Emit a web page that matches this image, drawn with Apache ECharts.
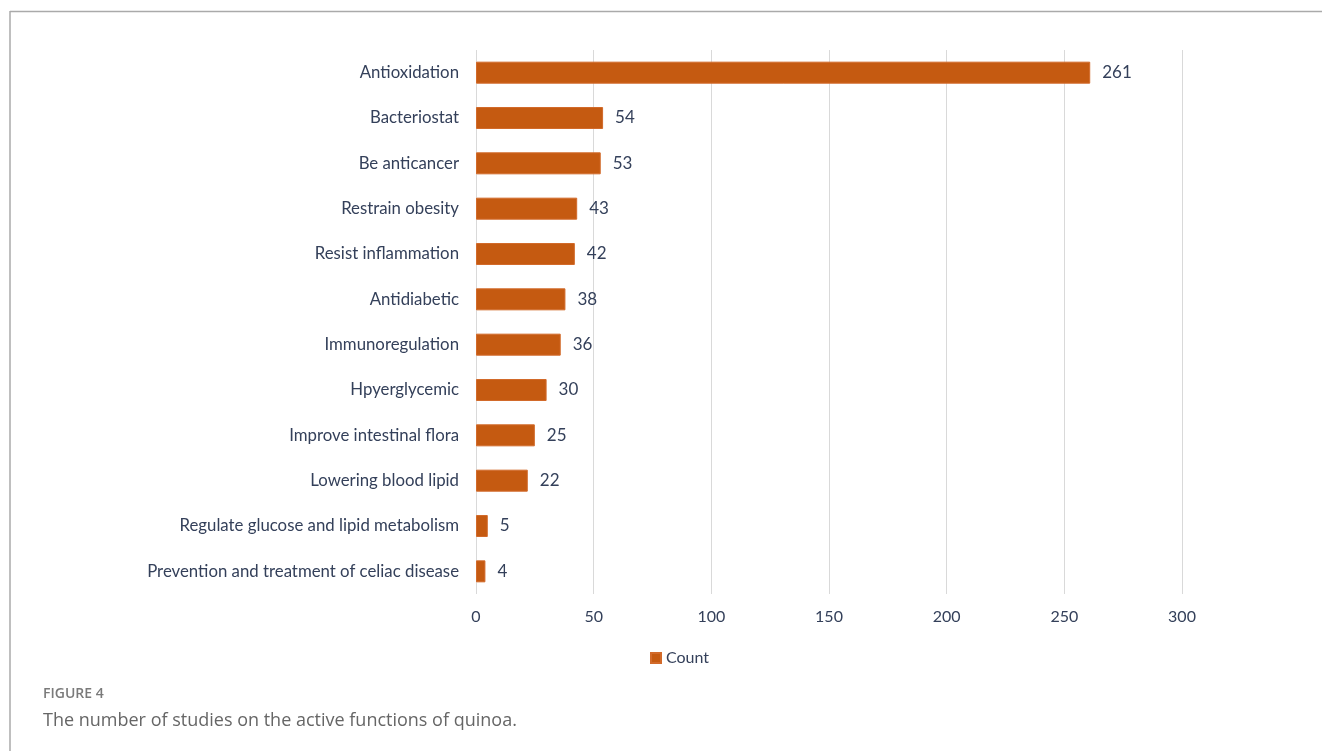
<!DOCTYPE html>
<html><head><meta charset="utf-8">
<script src="https://cdn.jsdelivr.net/npm/echarts@6/dist/echarts.min.js"></script>
<style>html,body{margin:0;padding:0;background:#fff}#c{width:1322px;height:751px}</style>
</head><body><div id="c"></div>
<script>
const categories = ["Antioxidation","Bacteriostat","Be anticancer","Restrain obesity","Resist inflammation","Antidiabetic","Immunoregulation","Hpyerglycemic","Improve intestinal flora","Lowering blood lipid","Regulate glucose and lipid metabolism","Prevention and treatment of celiac disease"];
const counts = [261,54,53,43,42,38,36,30,25,22,5,4];
const seriesName = "Count";
const figLabel = "FIGURE 4";
const figCaption = "The number of studies on the active functions of quinoa.";

const chart = echarts.init(document.getElementById('c'));
const font = "Lato, 'Open Sans', sans-serif";
const txt = '#34405a';
chart.setOption({
  animation:false,
  grid:{left:476,right:140,top:50,bottom:157},
  legend:{data:[seriesName],bottom:80,left:645,itemWidth:10,itemHeight:10,itemGap:4,
    textStyle:{fontFamily:font,fontSize:16,color:txt},icon:'rect'},
  xAxis:{type:'value',min:0,max:300,interval:50,
    axisLine:{show:false},axisTick:{show:false},
    splitLine:{lineStyle:{color:'#d9d9d9',width:1}},
    axisLabel:{fontFamily:font,fontSize:16,color:txt,margin:15}},
  yAxis:{type:'category',data:categories,inverse:true,
    axisLine:{show:false},axisTick:{show:false},
    axisLabel:{fontFamily:font,fontSize:16.8,color:txt,margin:17}},
  series:[{name:seriesName,type:'bar',data:counts,barWidth:22,
    itemStyle:{color:'#c55a11',borderColor:'#d26a2a',borderWidth:1},
    label:{show:true,position:'right',distance:12,fontFamily:font,fontSize:17,color:txt}}],
  graphic:[
    {type:'line',shape:{x1:10,y1:11.5,x2:1322,y2:11.5},style:{stroke:'#aaaaaa',lineWidth:1.5}},
    {type:'line',shape:{x1:10,y1:11,x2:10,y2:751},style:{stroke:'#aaaaaa',lineWidth:1.5}},
    {type:'text',left:43,top:687,style:{text:figLabel,fontFamily:"'Open Sans', sans-serif",fontSize:14,fontWeight:600,fill:'#7a7a7a'}},
    {type:'text',left:43,top:712,style:{text:figCaption,fontFamily:"'Open Sans', sans-serif",fontSize:18,fill:'#666'}}
  ]
});
</script></body></html>
